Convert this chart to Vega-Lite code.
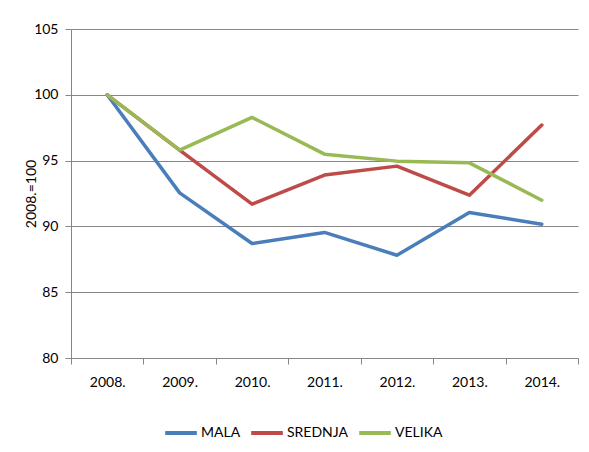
{
  "$schema": "https://vega.github.io/schema/vega-lite/v6.json",
  "width": 507,
  "height": 329,
  "autosize": {"type": "none"},
  "padding": {"left": 71, "top": 29, "right": 11, "bottom": 94},
  "background": "white",
  "config": {
    "view": {"stroke": null},
    "font": "Lato",
    "axis": {"labelFont": "Lato", "titleFont": "Lato", "labelColor": "#000", "titleColor": "#000"}
  },
  "data": {
    "values": [
      {"year": "2008.", "series": "MALA", "value": 100},
      {"year": "2009.", "series": "MALA", "value": 92.55},
      {"year": "2010.", "series": "MALA", "value": 88.7},
      {"year": "2011.", "series": "MALA", "value": 89.54},
      {"year": "2012.", "series": "MALA", "value": 87.81},
      {"year": "2013.", "series": "MALA", "value": 91.06},
      {"year": "2014.", "series": "MALA", "value": 90.17},
      {"year": "2008.", "series": "SREDNJA", "value": 100},
      {"year": "2009.", "series": "SREDNJA", "value": 95.8},
      {"year": "2010.", "series": "SREDNJA", "value": 91.69},
      {"year": "2011.", "series": "SREDNJA", "value": 93.9},
      {"year": "2012.", "series": "SREDNJA", "value": 94.58},
      {"year": "2013.", "series": "SREDNJA", "value": 92.37},
      {"year": "2014.", "series": "SREDNJA", "value": 97.7},
      {"year": "2008.", "series": "VELIKA", "value": 100},
      {"year": "2009.", "series": "VELIKA", "value": 95.8},
      {"year": "2010.", "series": "VELIKA", "value": 98.28},
      {"year": "2011.", "series": "VELIKA", "value": 95.49},
      {"year": "2012.", "series": "VELIKA", "value": 94.96},
      {"year": "2013.", "series": "VELIKA", "value": 94.83},
      {"year": "2014.", "series": "VELIKA", "value": 91.99}
    ]
  },
  "mark": {"type": "line", "strokeWidth": 3.5, "strokeJoin": "round", "strokeCap": "round"},
  "encoding": {
    "x": {
      "field": "year", "type": "ordinal", "bandPosition": 0.5,
      "scale": {"type": "band", "paddingInner": 0, "paddingOuter": 0},
      "axis": {
        "title": null, "labelAngle": 0, "labelFontSize": 14, "labelPadding": 11,
        "tickBand": "extent", "tickSize": 6, "tickColor": "#868686",
        "domainColor": "#868686", "grid": false
      }
    },
    "y": {
      "field": "value", "type": "quantitative",
      "scale": {"domain": [80, 105], "nice": false, "zero": false},
      "axis": {
        "title": "2008.=100", "titleFontSize": 14, "titleFontWeight": "normal", "titlePadding": -5,
        "values": [80, 85, 90, 95, 100, 105], "labelFontSize": 14, "labelPadding": 7,
        "tickSize": 6, "tickColor": "#868686", "domainColor": "#868686",
        "gridColor": "#868686", "gridOpacity": 1
      }
    },
    "color": {
      "field": "series", "type": "nominal",
      "scale": {"domain": ["MALA", "SREDNJA", "VELIKA"], "range": ["#4A7EBB", "#BE4B48", "#98B954"]},
      "legend": {
        "title": null, "orient": "none", "legendX": 92, "legendY": 386, "direction": "horizontal",
        "symbolType": "stroke", "symbolSize": 1000, "symbolStrokeWidth": 4,
        "labelFontSize": 14, "labelColor": "#000", "labelOffset": 2, "columnPadding": 2
      }
    }
  }
}
